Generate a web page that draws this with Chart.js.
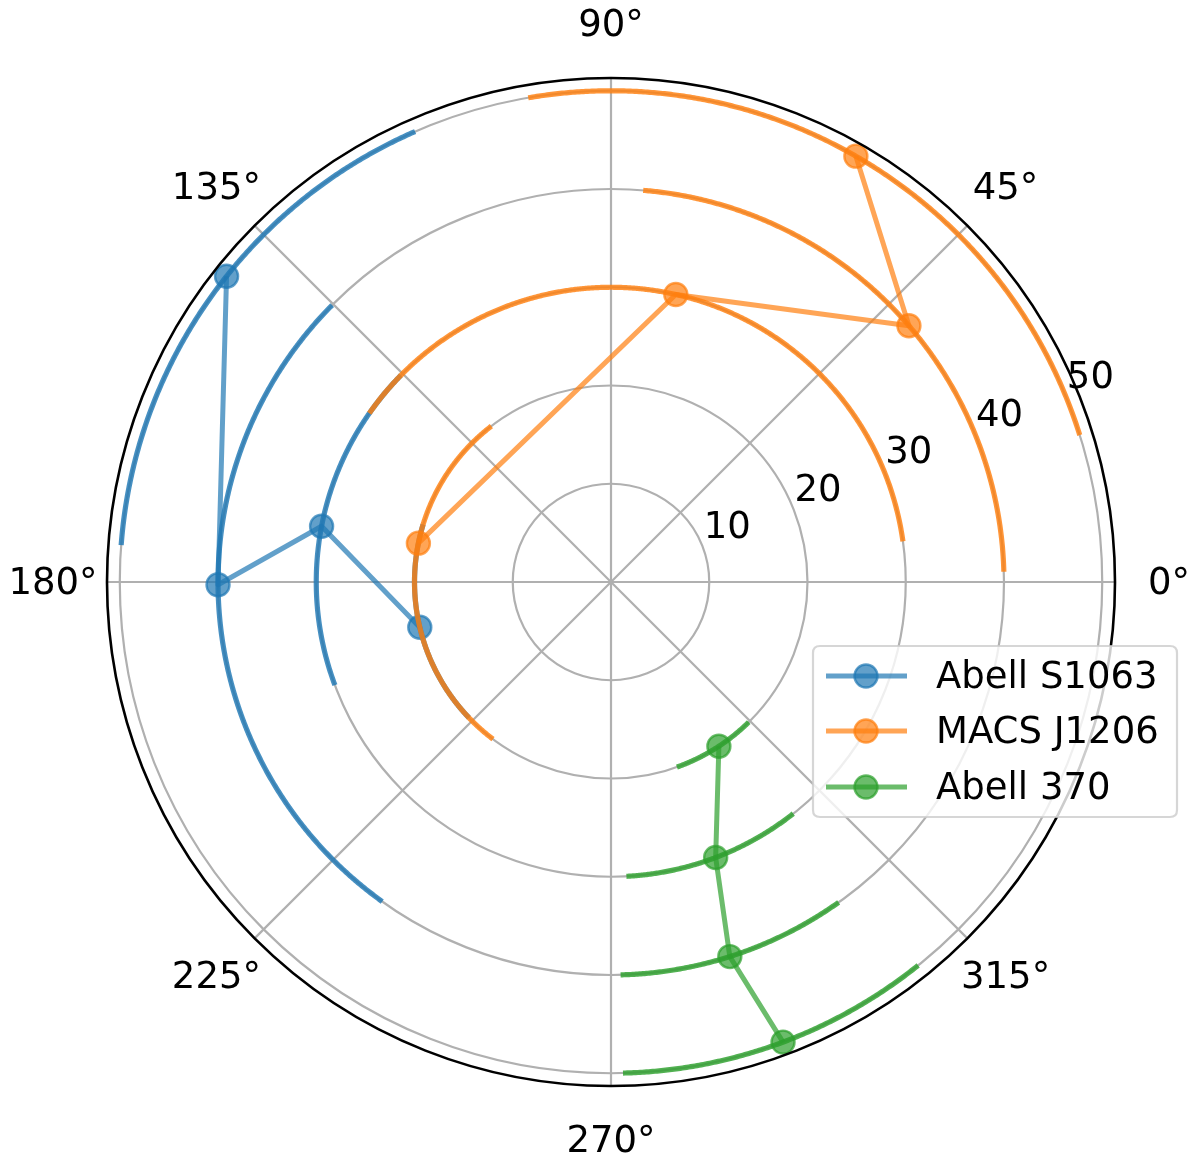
<!DOCTYPE html>
<html>
<head>
<meta charset="utf-8">
<style>
  html, body { margin: 0; padding: 0; background: #ffffff; }
  #wrap { width: 1200px; height: 1169px; }
</style>
<script src="https://cdn.jsdelivr.net/npm/chart.js@4.4.1/dist/chart.umd.min.js"></script>
</head>
<body>
<div id="wrap"><canvas id="c" width="1200" height="1169"></canvas></div>
<script>
// ---------- data ----------
const R_VALUES = [20, 30, 40, 50];
const SERIES_NAMES = ['Abell S1063', 'MACS J1206', 'Abell 370'];

const THETA_S1063 = [193.3, 169.1, 180.4, 141.5];
const THETA_LO_S1063 = [163.0, 135.5, 135.2, 113.5];
const THETA_HI_S1063 = [223.7, 200.5, 234.4, 175.7];

const THETA_J1206 = [168.6, 77.3, 40.7, 60.1];
const THETA_LO_J1206 = [127.5, 7.9, 1.5, 17.4];
const THETA_HI_J1206 = [233.1, 145.1, 85.3, 99.7];

const THETA_A370 = [303.3, 290.8, 287.6, 290.5];
const THETA_LO_A370 = [289.6, 273.0, 271.4, 271.4];
const THETA_HI_A370 = [314.5, 308.2, 305.4, 308.7];

const R_TICKS = [10, 20, 30, 40, 50];
const THETA_TICKS = [0, 45, 90, 135, 180, 225, 270, 315];
const R_MAX = 51.3;

// ---------- styling ----------
const COLORS = [[31, 119, 180], [255, 127, 14], [44, 160, 44]];
const FONT = '"DejaVu Sans", "Liberation Sans", sans-serif';
const rgba = (c, a) => `rgba(${c[0]},${c[1]},${c[2]},${a})`;
const rad = d => d * Math.PI / 180;
const toXY = (thetaDeg, r) => ({ x: r * Math.cos(rad(thetaDeg)), y: r * Math.sin(rad(thetaDeg)) });

const seriesTheta = [THETA_S1063, THETA_J1206, THETA_A370];
const seriesLo = [THETA_LO_S1063, THETA_LO_J1206, THETA_LO_A370];
const seriesHi = [THETA_HI_S1063, THETA_HI_J1206, THETA_HI_A370];

// build datasets in bottom-to-top drawing order
const layers = [];
for (let s = 0; s < 3; s++) {
  const col = COLORS[s];
  for (let i = 0; i < R_VALUES.length; i++) {
    const pts = [];
    const lo = seriesLo[s][i], hi = seriesHi[s][i];
    const n = Math.max(2, Math.ceil((hi - lo) / 0.5));
    for (let k = 0; k <= n; k++) pts.push(toXY(lo + (hi - lo) * k / n, R_VALUES[i]));
    layers.push({
      label: SERIES_NAMES[s] + ' err ' + R_VALUES[i],
      data: pts,
      showLine: true,
      borderColor: rgba(col, 0.82),
      borderWidth: 5.2,
      borderJoinStyle: 'round',
      borderCapStyle: 'butt',
      pointRadius: 0,
      pointHoverRadius: 0,
      fill: false,
      tension: 0.0001
    });
  }
  layers.push({
    label: SERIES_NAMES[s],
    data: R_VALUES.map((r, i) => toXY(seriesTheta[s][i], r)),
    showLine: true,
    borderColor: rgba(col, 0.7),
    borderWidth: 5,
    borderJoinStyle: 'round',
    pointRadius: 11.5,
    pointHoverRadius: 11.5,
    pointBackgroundColor: rgba(col, 0.7),
    pointBorderColor: rgba(col, 0.7),
    pointBorderWidth: 2.4,
    fill: false,
    tension: 0
  });
}
const N = layers.length;
layers.forEach((d, i) => { d.order = N - i; });

// polar grid, tick labels, spine, legend
const polarGrid = {
  id: 'polarGrid',
  beforeDatasetsDraw(chart) {
    const ctx = chart.ctx;
    const xs = chart.scales.x, ys = chart.scales.y;
    const cx = xs.getPixelForValue(0), cy = ys.getPixelForValue(0);
    const pxPerUnit = xs.getPixelForValue(1) - cx;
    ctx.save();
    ctx.strokeStyle = '#b0b0b0';
    ctx.lineWidth = 2.2;
    R_TICKS.forEach(r => {
      ctx.beginPath();
      ctx.arc(cx, cy, r * pxPerUnit, 0, Math.PI * 2);
      ctx.stroke();
    });
    THETA_TICKS.forEach(t => {
      const p = toXY(t, R_MAX);
      ctx.beginPath();
      ctx.moveTo(cx, cy);
      ctx.lineTo(xs.getPixelForValue(p.x), ys.getPixelForValue(p.y));
      ctx.stroke();
    });
    // radial labels at 22.5 deg
    ctx.fillStyle = '#000';
    ctx.font = '37px ' + FONT;
    ctx.textAlign = 'left';
    ctx.textBaseline = 'alphabetic';
    R_TICKS.forEach(r => {
      const p = toXY(22.5, r);
      ctx.fillText(String(r), xs.getPixelForValue(p.x) + 2, ys.getPixelForValue(p.y) - 6);
    });
    // angle labels
    ctx.textAlign = 'center';
    ctx.textBaseline = 'middle';
    const labR = R_MAX * 558 / 504;
    THETA_TICKS.forEach(t => {
      const p = toXY(t, labR);
      ctx.fillText(t + '°', xs.getPixelForValue(p.x), ys.getPixelForValue(p.y) + 2);
    });
    ctx.restore();
  },
  afterDatasetsDraw(chart) {
    const ctx = chart.ctx;
    const xs = chart.scales.x, ys = chart.scales.y;
    const cx = xs.getPixelForValue(0), cy = ys.getPixelForValue(0);
    const pxPerUnit = xs.getPixelForValue(1) - cx;
    ctx.save();
    // outer spine
    ctx.strokeStyle = '#000';
    ctx.lineWidth = 2.6;
    ctx.beginPath();
    ctx.arc(cx, cy, R_MAX * pxPerUnit, 0, Math.PI * 2);
    ctx.stroke();

    // legend
    const bx = 813, by = 646, bw = 364, bh = 171, br = 7;
    ctx.beginPath();
    ctx.moveTo(bx + br, by);
    ctx.lineTo(bx + bw - br, by);
    ctx.quadraticCurveTo(bx + bw, by, bx + bw, by + br);
    ctx.lineTo(bx + bw, by + bh - br);
    ctx.quadraticCurveTo(bx + bw, by + bh, bx + bw - br, by + bh);
    ctx.lineTo(bx + br, by + bh);
    ctx.quadraticCurveTo(bx, by + bh, bx, by + bh - br);
    ctx.lineTo(bx, by + br);
    ctx.quadraticCurveTo(bx, by, bx + br, by);
    ctx.closePath();
    ctx.fillStyle = 'rgba(255,255,255,0.8)';
    ctx.fill();
    ctx.strokeStyle = 'rgba(204,204,204,0.8)';
    ctx.lineWidth = 2.2;
    ctx.stroke();

    const rowsY = [676, 731, 787];
    SERIES_NAMES.forEach((name, s) => {
      const col = COLORS[s];
      const y = rowsY[s];
      ctx.strokeStyle = rgba(col, 0.7);
      ctx.lineWidth = 5;
      ctx.beginPath();
      ctx.moveTo(826, y);
      ctx.lineTo(907, y);
      ctx.stroke();
      ctx.beginPath();
      ctx.arc(866, y, 11.5, 0, Math.PI * 2);
      ctx.fillStyle = rgba(col, 0.7);
      ctx.fill();
      ctx.lineWidth = 2.4;
      ctx.stroke();
      ctx.fillStyle = '#000';
      ctx.font = '37px ' + FONT;
      ctx.textAlign = 'left';
      ctx.textBaseline = 'middle';
      ctx.fillText(name, 936, y + 2);
    });
    ctx.restore();
  }
};

new Chart(document.getElementById('c'), {
  type: 'scatter',
  data: { datasets: layers },
  options: {
    responsive: false,
    animation: false,
    devicePixelRatio: 1,
    layout: { padding: { left: 107, right: 85, top: 78, bottom: 83 } },
    plugins: { legend: { display: false }, tooltip: { enabled: false } },
    events: [],
    scales: {
      x: { type: 'linear', min: -R_MAX, max: R_MAX, display: false },
      y: { type: 'linear', min: -R_MAX, max: R_MAX, display: false }
    }
  },
  plugins: [polarGrid]
});
</script>
</body>
</html>
